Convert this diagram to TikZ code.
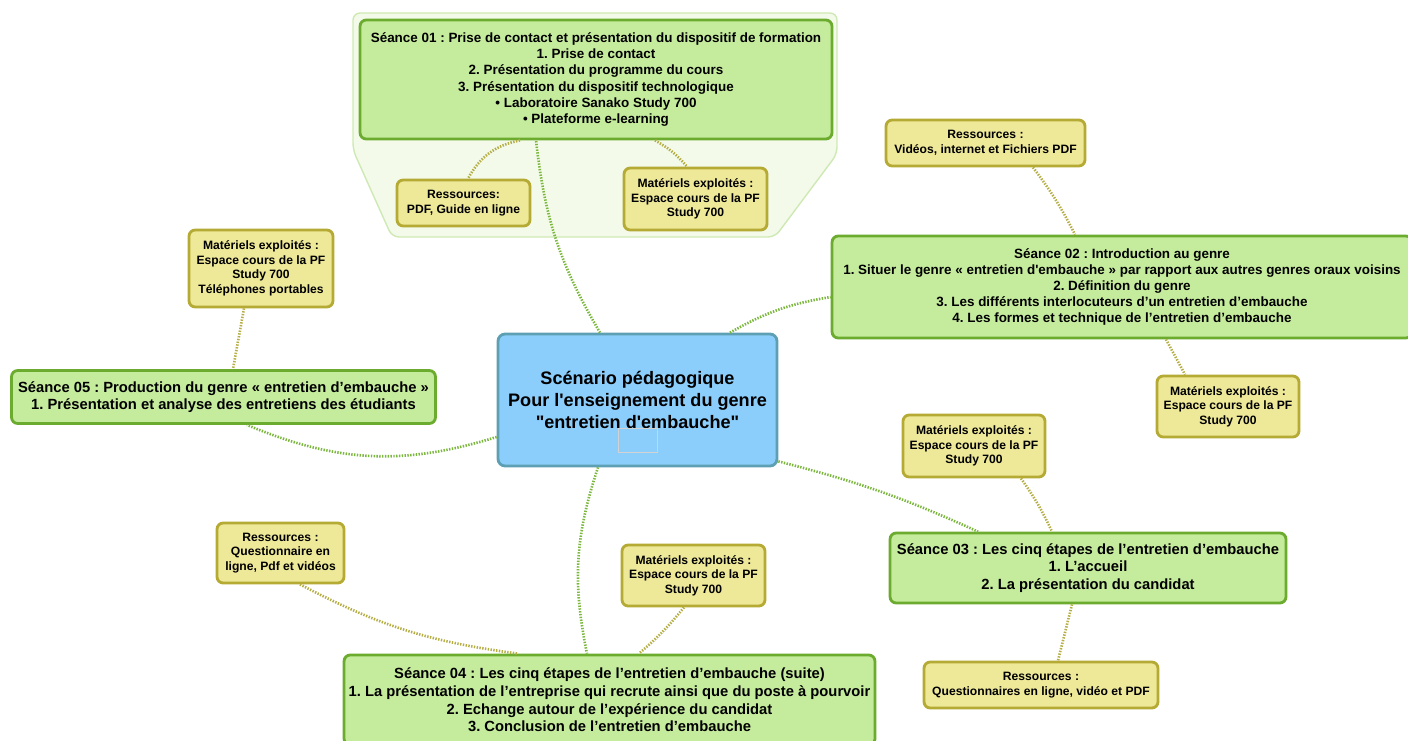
\documentclass[tikz,border=0pt]{standalone}
\usepackage{fontspec}
\setmainfont{Liberation Sans}[Ligatures=TeXOff]
\definecolor{seancefill}{HTML}{C5EB9D}
\definecolor{seanceborder}{HTML}{6BAB2E}
\definecolor{resfill}{HTML}{EEE899}
\definecolor{resborder}{HTML}{B5AA33}
\definecolor{centrefill}{HTML}{8CCEFB}
\definecolor{centreborder}{HTML}{5DA0B4}
\definecolor{groupfill}{HTML}{F3FAEA}
\definecolor{groupborder}{HTML}{CFE9B4}
\definecolor{lienvert}{HTML}{7BB73C}
\definecolor{lienolive}{HTML}{B5AE45}
\frenchspacing

\begin{document}
\begin{tikzpicture}[x=0.02cm,y=-0.02cm]
\tikzset{seance/.style={draw=seanceborder,fill=seancefill,line width=1.6pt,rounded corners=3.5pt,align=center,inner sep=1pt,font=\bfseries\fontsize{7.65}{9.2}\selectfont},
  seancegrand/.style={seance,font=\bfseries\fontsize{8.4}{10}\selectfont},
  ressource/.style={draw=resborder,fill=resfill,line width=1.6pt,rounded corners=3.5pt,align=center,inner sep=1pt,font=\bfseries\fontsize{6.9}{8.3}\selectfont},
  centre/.style={draw=centreborder,fill=centrefill,line width=1.6pt,rounded corners=4pt,align=center,font=\bfseries\fontsize{10.3}{12.4}\selectfont},
  liensc/.style={lienvert,line width=1.5pt,dash pattern=on 0.8pt off 0.8pt},
  lienres/.style={lienolive,line width=1.5pt,dash pattern=on 0.8pt off 0.8pt}}
\useasboundingbox (0,0) rectangle (1408,740);

\draw[groupborder,fill=groupfill,line width=0.8pt,rounded corners=4pt]
  (353,13) -- (837,13) -- (837,154) -- (775,237) -- (392,237) -- (353,150) -- cycle;

\node[seance,minimum width=9.44cm,minimum height=2.38cm] (s01) at (596,79.5)
  {Séance 01 : Prise de contact et présentation du dispositif de formation\\1. Prise de contact\\2. Présentation du programme du cours\\3. Présentation du dispositif technologique\\• Laboratoire Sanako Study 700\\• Plateforme e-learning};
\node[ressource,minimum width=2.66cm,minimum height=0.92cm] (r01) at (463.5,203)
  {Ressources:\\PDF, Guide en ligne};
\node[ressource,minimum width=2.86cm,minimum height=1.24cm] (m01) at (695.5,199)
  {Matériels exploités :\\Espace cours de la PF\\Study 700};

\node[ressource,minimum width=3.98cm,minimum height=0.92cm] (r02) at (985.5,143)
  {Ressources :\\Vidéos, internet et Fichiers PDF};
\node[seance,minimum width=11.6cm,minimum height=2.04cm] (s02) at (1122,287)
  {Séance 02 : Introduction au genre\\1. Situer le genre « entretien d'embauche » par rapport aux autres genres oraux voisins\\2. Définition du genre\\3. Les différents interlocuteurs d’un entretien d’embauche\\4. Les formes et technique de l’entretien d’embauche};
\node[ressource,minimum width=2.84cm,minimum height=1.22cm] (m02) at (1228,406.5)
  {Matériels exploités :\\Espace cours de la PF\\Study 700};

\node[centre,minimum width=5.58cm,minimum height=2.64cm] (cen) at (637.5,400)
  {Scénario pédagogique\\Pour l'enseignement du genre\\"entretien d'embauche"};
\draw[gray!35,line width=0.4pt] (618,428) rectangle (657,452);

\node[seancegrand,minimum width=8.48cm,minimum height=1.06cm] (s05) at (223.5,397)
  {Séance 05 : Production du genre « entretien d’embauche »\\1. Présentation et analyse des entretiens des étudiants};
\node[ressource,minimum width=2.88cm,minimum height=1.54cm] (m05) at (261,268.5)
  {Matériels exploités :\\Espace cours de la PF\\Study 700\\Téléphones portables};

\node[seancegrand,minimum width=7.92cm,minimum height=1.4cm] (s03) at (1088,568)
  {Séance 03 : Les cinq étapes de l’entretien d’embauche\\1. L’accueil\\2. La présentation du candidat};
\node[ressource,minimum width=2.84cm,minimum height=1.24cm] (m03) at (974,446)
  {Matériels exploités :\\Espace cours de la PF\\Study 700};
\node[ressource,minimum width=4.68cm,minimum height=0.92cm] (r03) at (1041,685)
  {Ressources :\\Questionnaires en ligne, vidéo et PDF};

\node[seancegrand,minimum width=10.62cm,minimum height=1.8cm] (s04) at (609.5,700)
  {Séance 04 : Les cinq étapes de l’entretien d’embauche (suite)\\1. La présentation de l’entreprise qui recrute ainsi que du poste à pourvoir\\2. Echange autour de l’expérience du candidat\\3. Conclusion de l’entretien d’embauche};
\node[ressource,minimum width=2.54cm,minimum height=1.2cm] (r04) at (280.5,553)
  {Ressources :\\Questionnaire en\\ligne, Pdf et vidéos};
\node[ressource,minimum width=2.86cm,minimum height=1.22cm] (m04) at (693.5,575.5)
  {Matériels exploités :\\Espace cours de la PF\\Study 700};

\draw[liensc] ([xshift=-0.75cm]cen.north) to[bend left=12] ([xshift=-1.2cm]s01.south);
\draw[liensc] ([xshift=1.85cm]cen.north) to[bend left=10] ([yshift=-0.2cm]s02.west);
\draw[liensc] ([yshift=0.12cm]cen.south east) to[bend left=5] ([xshift=-2.2cm]s03.north);
\draw[liensc] ([xshift=-0.79cm]cen.south) to[bend right=15] ([xshift=-0.45cm]s04.north);
\draw[liensc] ([yshift=-0.74cm]cen.west) to[bend left=20] ([xshift=0.47cm]s05.south);

\draw[lienres] ([xshift=-1.52cm]s01.south) to[bend right=25] ([xshift=0.09cm]r01.north);
\draw[lienres] ([xshift=1.18cm]s01.south) to[bend left=10] ([xshift=-0.17cm]m01.north);
\draw[lienres] ([xshift=0.95cm]r02.south) to[bend left=5] ([xshift=-0.94cm]s02.north);
\draw[lienres] ([xshift=0.88cm]s02.south) to ([xshift=-0.86cm]m02.north);
\draw[lienres] ([xshift=0.94cm]m03.south) to[bend left=5] ([xshift=-0.72cm]s03.north);
\draw[lienres] ([xshift=-0.32cm]s03.south) to ([xshift=0.34cm]r03.north);
\draw[lienres] ([xshift=0.39cm]r04.south) to[bend right=10] ([xshift=-1.83cm]s04.north);
\draw[lienres] ([xshift=-0.19cm]m04.south) to[bend left=5] ([xshift=0.59cm]s04.north);
\draw[lienres] ([xshift=-0.34cm]m05.south) to ([xshift=0.19cm]s05.north);
\end{tikzpicture}
\end{document}
